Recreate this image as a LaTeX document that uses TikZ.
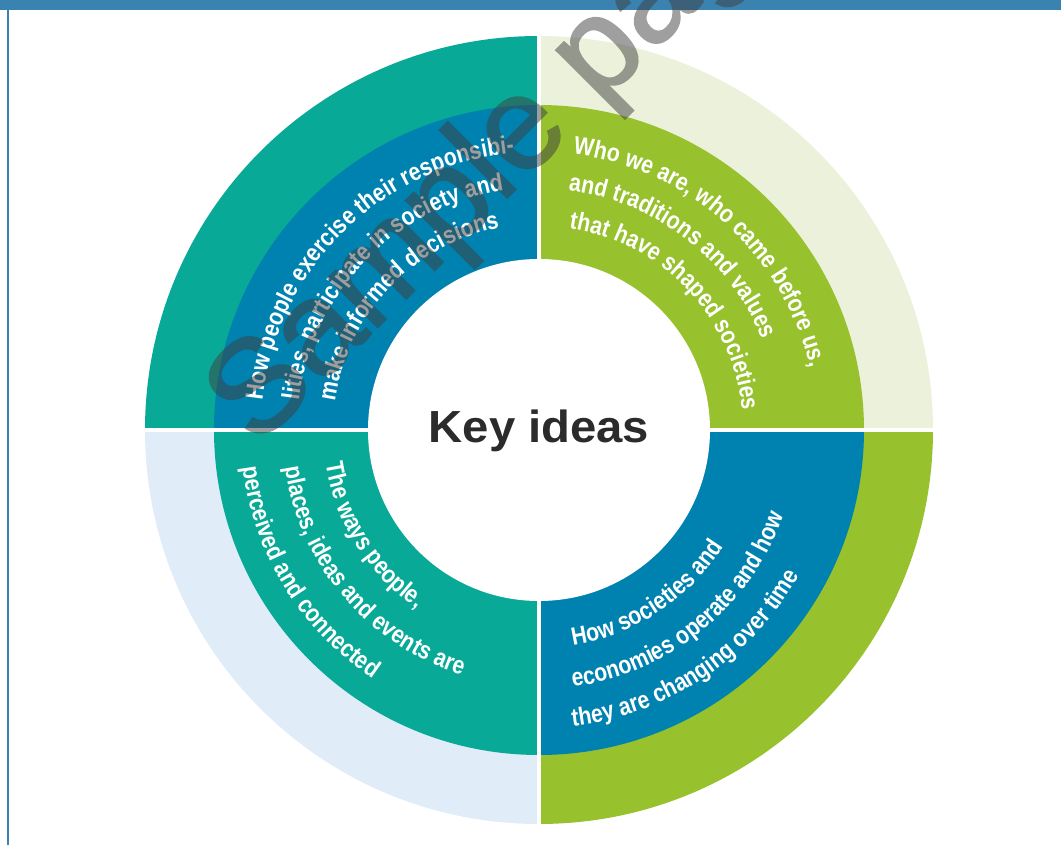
\documentclass[tikz,border=0pt]{standalone}
\usepackage{fontspec}
\setmainfont{Liberation Sans}
\newfontfamily\keyfont[FakeStretch=0.85]{Liberation Sans}
\newfontfamily\titlefont[FakeStretch=1.05]{Liberation Sans}
\newfontfamily\markfont[FakeBold=1.5]{Liberation Sans}
\usetikzlibrary{decorations.text}

\definecolor{keyteal}{RGB}{8,170,151}
\definecolor{keyblue}{RGB}{0,130,176}
\definecolor{keygreen}{RGB}{151,193,45}
\definecolor{palegreen}{RGB}{235,241,218}
\definecolor{paleblue}{RGB}{224,236,248}
\definecolor{barblue}{RGB}{58,130,176}
\definecolor{keydark}{RGB}{43,43,43}
\definecolor{markgrey}{RGB}{63,63,63}

\newcommand{\kfont}{\keyfont\bfseries\fontsize{25}{25}\selectfont}

\tikzset{
  ringtext/.style={decorate,decoration={text along path,text align=left,
    text color=white,text={#1}}}
}

\begin{document}
\begin{tikzpicture}[x=1pt,y=1pt]
\useasboundingbox (-539,-415) rectangle (522,430);
\clip (-539,-415) rectangle (522,430);

\fill [barblue] (-539,420) rectangle (522,430);
\fill [barblue] (-532,-415) rectangle (-529.6,420);

\fill [keyteal] (0,0) -- (180:394) arc[start angle=180,end angle=90,radius=394] -- cycle;
\fill [palegreen] (0,0) -- (90:394) arc[start angle=90,end angle=0,radius=394] -- cycle;
\fill [paleblue] (0,0) -- (180:394) arc[start angle=180,end angle=270,radius=394] -- cycle;
\fill [keygreen] (0,0) -- (270:394) arc[start angle=270,end angle=360,radius=394] -- cycle;

\fill [keyblue] (0,0) -- (180:325) arc[start angle=180,end angle=90,radius=325] -- cycle;
\fill [keygreen] (0,0) -- (90:325) arc[start angle=90,end angle=0,radius=325] -- cycle;
\fill [keyteal] (0,0) -- (180:325) arc[start angle=180,end angle=270,radius=325] -- cycle;
\fill [keyblue] (0,0) -- (270:325) arc[start angle=270,end angle=360,radius=325] -- cycle;

\draw [white,line width=4.5] (0,-400) -- (0,400);
\draw [white,line width=4.5] (-400,0) -- (400,0);
\fill [white] (0,0) circle[radius=171];

\path [ringtext={|\kfont|How people exercise their responsibi-}] (174:278) arc[start angle=174,end angle=90,radius=278];
\path [ringtext={|\kfont|lities, participate in society and}] (173:242) arc[start angle=173,end angle=90,radius=242];
\path [ringtext={|\kfont|make informed decisions}] (172:206) arc[start angle=172,end angle=90,radius=206];

\path [ringtext={|\kfont|Who we are, who came before us,}] (83:278) arc[start angle=83,end angle=0,radius=278];
\path [ringtext={|\kfont|and traditions and values}] (83:241) arc[start angle=83,end angle=0,radius=241];
\path [ringtext={|\kfont|that have shaped societies}] (81.5:204) arc[start angle=81.5,end angle=0,radius=204];

\path [ringtext={|\kfont|The ways people,}] (189:216) arc[start angle=189,end angle=270,radius=216];
\path [ringtext={|\kfont|places, ideas and events are}] (188.5:257) arc[start angle=188.5,end angle=270,radius=257];
\path [ringtext={|\kfont|perceived and connected}] (187.3:299) arc[start angle=187.3,end angle=270,radius=299];

\path [ringtext={|\kfont|How societies and}] (-81:218) arc[start angle=-81,end angle=0,radius=218];
\path [ringtext={|\kfont|economies operate and how}] (-82.5:259) arc[start angle=-82.5,end angle=0,radius=259];
\path [ringtext={|\kfont|they are changing over time}] (-83.5:298) arc[start angle=-83.5,end angle=0,radius=298];

\node (title) at (0,-13) [anchor=base,inner sep=0,text=keydark,font=\titlefont\bfseries\fontsize{45}{45}\selectfont] {Key ideas};

\begin{scope}[transparency group,opacity=0.5]
\node (wmark) at (-282,-18) [anchor=base west,rotate=45,inner sep=0,text=markgrey,font=\markfont\fontsize{132}{132}\selectfont] {Sample page};
\end{scope}
\end{tikzpicture}
\end{document}
